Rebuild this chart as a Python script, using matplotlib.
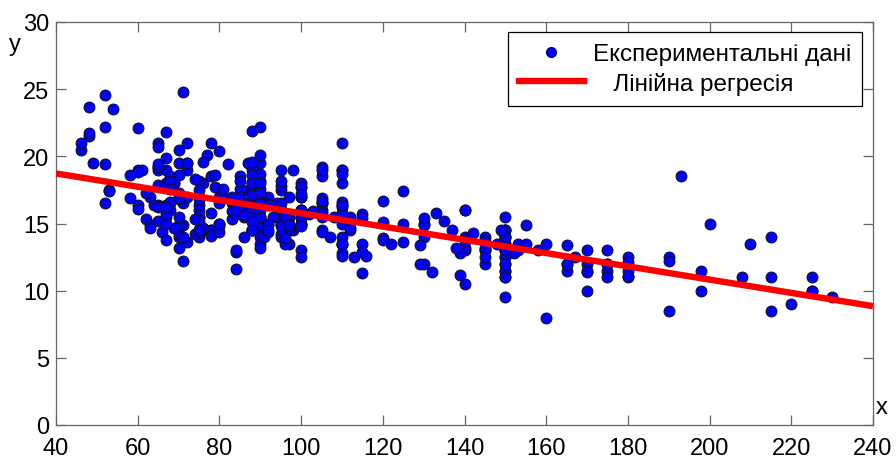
import numpy as np
import matplotlib
matplotlib.use("Agg")
import matplotlib.pyplot as plt
from matplotlib.lines import Line2D

# ---- data: horsepower (x) and acceleration (y) ----
hp = [
    130, 165, 150, 150, 140, 198, 220, 215, 225, 190, 170, 160, 150, 225, 95, 95, 97, 85, 88, 46, 87, 90, 95, 113, 90, 215, 200, 210, 193,
    88, 90, 95, 100, 105, 100, 88, 100, 165, 175, 153, 150, 180, 170, 175, 110, 72, 100, 88, 86, 90, 70, 76, 65, 69, 60, 70,
    95, 80, 54, 90, 86, 165, 175, 150, 153, 150, 208, 155, 160, 190, 97, 150, 130, 140, 150, 112, 76, 87, 69, 86, 92, 97, 80, 88,
    175, 150, 145, 137, 150, 198, 150, 158, 150, 215, 225, 175, 105, 100, 100, 88, 95, 46, 150, 167, 170, 180, 100, 88, 72, 94,
    90, 85, 107, 90, 145, 230, 49, 75, 91, 112, 150, 110, 122, 180,
    95, 100, 100, 67, 80, 65, 75, 100, 110, 105, 140, 150, 150, 140, 150, 83, 67, 78, 52, 61, 75, 75, 75, 97, 93, 67,
    95, 105, 72, 72, 170, 145, 150, 148, 110, 105, 110, 95, 110, 110, 129, 75, 83, 100, 78, 96, 71, 97, 97, 70, 90, 95, 88, 98, 115, 53,
    86, 81, 92, 79, 83, 140, 150, 120, 152, 100, 105, 81, 90, 52, 60, 70, 53, 100, 78, 110, 95, 71, 70, 75, 72, 102, 150, 88, 108,
    120, 180, 145, 130, 150,
    68, 80, 58, 96, 70, 145, 110, 145, 130, 110, 105, 100, 98, 180, 170, 190, 149, 78, 88, 75, 89, 63, 83, 67, 78, 97, 110, 110,
    48, 66, 52, 70, 60, 110, 140, 139, 105, 95, 85, 88, 100, 90, 105, 85, 110, 120, 145, 165, 139, 140, 68, 95, 97, 75, 95, 105,
    85, 97, 103, 125, 115, 133, 71, 68,
    115, 85, 88, 90, 110, 130, 129, 138, 135, 155, 142, 125, 150, 71, 65, 80, 80, 77, 125, 71, 90, 70, 70, 65, 69, 90, 115, 115, 90,
    76, 60, 70, 65, 90, 88, 90, 90, 78, 90, 75, 92, 75, 65, 105, 65, 48, 48, 67, 67, 67, 67, 62, 132, 100, 88, 72,
    84, 84, 92, 110, 84, 58, 64, 60, 67, 65, 62, 68, 63, 65, 65, 74, 75, 75, 100, 74, 80, 76, 116, 120, 110, 105, 88, 85,
    88, 88, 88, 85, 84, 90, 92, 74, 68, 68, 63, 70, 88, 75, 70, 67, 67, 67, 110, 85, 92, 112, 96, 84, 90, 86, 52, 84, 79, 82,
]
acc = [
    12.0, 11.5, 11.0, 12.0, 10.5, 10.0, 9.0, 8.5, 10.0, 8.5, 10.0, 8.0, 9.5, 10.0, 15.0, 15.5, 15.5, 16.0, 14.5, 20.5, 17.5, 14.5, 17.5, 12.5, 15.0, 14.0, 15.0, 13.5, 18.5,
    14.5, 15.5, 14.0, 13.0, 15.5, 15.5, 15.5, 15.5, 12.0, 11.5, 13.5, 13.0, 11.5, 12.0, 12.0, 13.5, 19.0, 15.0, 14.5, 14.0, 14.0, 19.5, 14.5, 19.0, 18.0, 19.0, 20.5,
    15.5, 17.0, 23.5, 19.5, 16.5, 12.0, 12.0, 13.5, 13.0, 11.5, 11.0, 13.5, 13.5, 12.5, 13.5, 12.5, 14.0, 16.0, 14.0, 14.5, 18.0, 19.5, 18.0, 16.0, 17.0, 14.5, 15.0, 16.5,
    13.0, 11.5, 13.0, 14.5, 12.5, 11.5, 12.0, 13.0, 14.5, 11.0, 11.0, 11.0, 16.5, 18.0, 16.0, 16.5, 16.0, 21.0, 14.0, 12.5, 13.0, 12.5, 15.0, 19.0, 19.5, 16.5,
    13.5, 18.5, 14.0, 15.5, 13.0, 9.5, 19.5, 15.5, 14.0, 15.5, 11.0, 14.0, 13.5, 11.0,
    16.5, 16.0, 17.0, 19.0, 16.5, 21.0, 17.0, 17.0, 18.0, 16.5, 14.0, 14.5, 13.5, 16.0, 15.5, 16.5, 15.5, 14.5, 16.5, 19.0, 14.5, 15.5, 14.0, 15.0, 15.5, 16.0,
    16.0, 16.0, 21.0, 19.5, 11.5, 14.0, 14.5, 13.5, 21.0, 18.5, 19.0, 19.0, 15.0, 13.5, 12.0, 16.0, 17.0, 16.0, 18.5, 13.5, 16.5, 17.0, 14.5, 14.0, 17.0, 15.0, 17.0, 14.5, 13.5, 17.5,
    15.5, 16.9, 14.9, 17.7, 15.3, 13.0, 13.0, 13.9, 12.8, 15.4, 14.5, 17.6, 17.6, 22.2, 22.1, 14.2, 17.4, 17.7, 21.0, 16.2, 17.8, 12.2, 17.0, 16.4, 13.6, 15.7, 13.2, 21.9, 15.5,
    16.7, 12.1, 12.0, 15.0, 14.0,
    18.5, 14.8, 18.6, 15.5, 16.8, 12.5, 19.0, 13.7, 14.9, 16.4, 16.9, 17.7, 19.0, 11.1, 11.4, 12.2, 14.5, 14.5, 16.0, 18.2, 15.8, 17.0, 15.9, 16.4, 14.1, 14.5, 12.8, 13.5,
    21.5, 14.4, 19.4, 18.6, 16.4, 15.5, 13.2, 12.8, 19.2, 18.2, 15.8, 15.4, 17.2, 17.2, 15.8, 16.7, 18.7, 15.1, 13.2, 13.4, 11.2, 13.7, 16.5, 14.2, 14.7, 14.5, 14.8, 16.7,
    17.6, 14.9, 15.9, 13.6, 15.7, 15.8, 14.9, 16.6,
    15.4, 18.2, 17.3, 18.2, 16.6, 15.4, 13.4, 13.2, 15.2, 14.9, 14.3, 15.0, 13.0, 14.0, 15.2, 14.4, 15.0, 20.1, 17.4, 24.8, 22.2, 13.2, 14.9, 19.2, 14.7, 16.0, 11.3, 12.9, 13.2,
    14.7, 18.8, 15.5, 16.4, 16.5, 18.1, 20.1, 18.7, 15.8, 15.5, 17.5, 15.0, 15.2, 17.9, 14.4, 19.2, 21.7, 23.7, 19.9, 21.8, 13.8, 18.0, 15.3, 11.4, 12.5, 15.1, 17.0,
    15.7, 16.4, 14.4, 12.6, 12.9, 16.9, 16.4, 16.1, 17.8, 19.4, 17.3, 16.0, 14.9, 16.2, 20.7, 14.2, 14.4, 16.8, 14.8, 18.3, 20.4, 19.6, 12.6, 13.8, 15.8, 19.0, 17.1, 16.6,
    19.6, 18.6, 18.0, 16.2, 16.0, 18.0, 16.4, 15.3, 18.2, 17.6, 14.7, 17.3, 14.5, 14.5, 16.9, 15.0, 15.7, 16.2, 16.4, 17.0, 14.5, 14.7, 13.9, 13.0, 17.3, 15.6, 24.6, 11.6, 18.6, 19.4,
]

x_ticks = [40, 60, 80, 100, 120, 140, 160, 180, 200, 220, 240]
y_ticks = [0, 5, 10, 15, 20, 25, 30]
label_points = "Експериментальні дані"
label_line = "   Лінійна регресія"

plt.rcParams['font.family'] = ['Liberation Sans', 'DejaVu Sans']

hp_arr = np.array(hp, dtype=float)
acc_arr = np.array(acc, dtype=float)
slope, intercept = np.polyfit(hp_arr, acc_arr, 1)
x_line = np.array([x_ticks[0], x_ticks[-1]], dtype=float)
y_line = intercept + slope * x_line

W, H = 896, 460
fig = plt.figure(figsize=(W / 100, H / 100), dpi=100)
ax = fig.add_axes([56 / W, 1 - 426 / H, 817 / W, 403 / H])

ax.scatter(hp_arr, acc_arr, s=62, c='#0000ff', edgecolors='#111111', linewidths=0.7, zorder=2)
ax.plot(x_line, y_line, color='#ff0000', lw=4.6, zorder=3, solid_capstyle='butt')

ax.set_xlim(x_ticks[0], x_ticks[-1])
ax.set_ylim(y_ticks[0], y_ticks[-1])
ax.set_xticks(x_ticks)
ax.set_yticks(y_ticks)
axis_col = '#666666'
for s in ax.spines.values():
    s.set_color(axis_col)
    s.set_linewidth(0.9)
ax.tick_params(direction='in', length=7, width=0.9, color=axis_col, top=True, right=True,
               labelsize=17, labelcolor='black')
ax.tick_params(axis='x', pad=8.5)
ax.tick_params(axis='y', pad=5)

fig.text(15 / W, 1 - 45 / H, 'y', ha='center', va='center', fontsize=17)
fig.text(876 / W, 1 - 408 / H, 'x', ha='left', va='center', fontsize=17)

handles = [
    Line2D([], [], marker='o', ls='none', mfc='#0000ff', mec='#000080', ms=7),
    Line2D([], [], color='#ff0000', lw=4.6),
]
leg = ax.legend(handles, [label_points, label_line], loc='upper right',
                bbox_to_anchor=(0.9865, 0.975), borderaxespad=0, fontsize=17.5,
                frameon=True, fancybox=False, framealpha=1, edgecolor='black',
                handlelength=2.7, handletextpad=0.35, borderpad=0.45, labelspacing=0.28)
leg.get_frame().set_linewidth(0.9)

fig.savefig('out.png', dpi=100)
